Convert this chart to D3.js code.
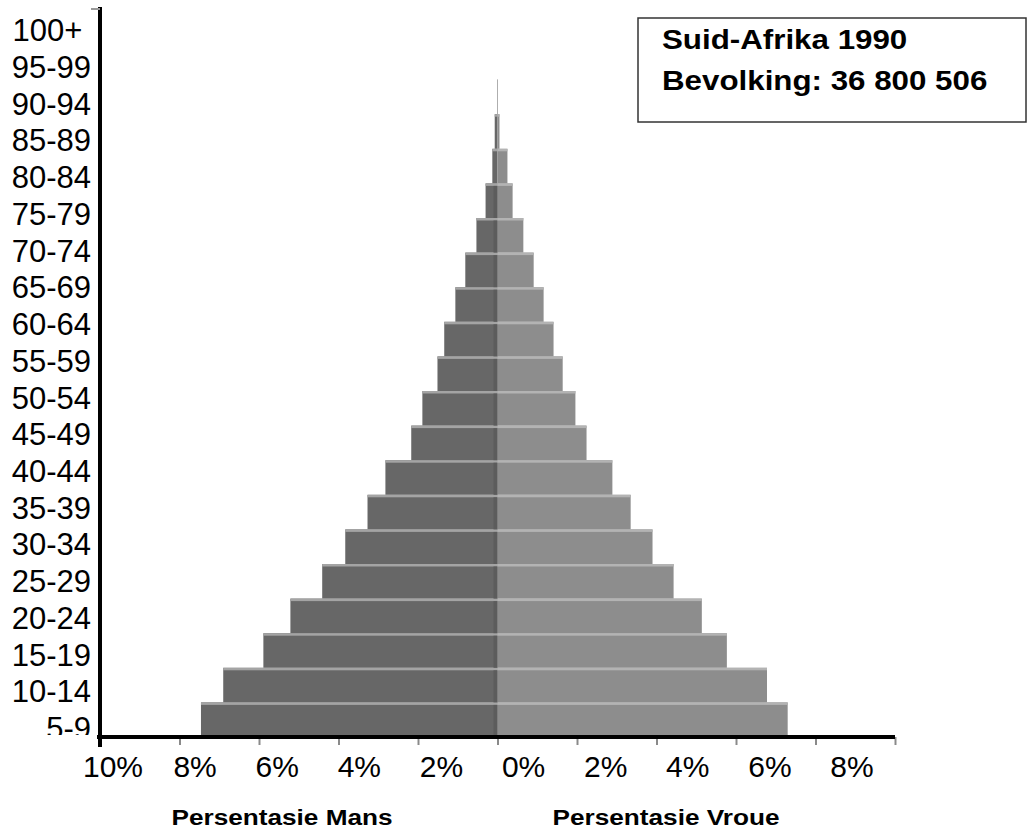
<!DOCTYPE html>
<html>
<head>
<meta charset="utf-8">
<script src="https://cdn.jsdelivr.net/npm/d3@7"></script>
<style>
  body { margin: 0; background: #fff; }
  svg { display: block; font-family: "Liberation Sans", Arial, sans-serif; }
</style>
</head>
<body>
<div id="chart"></div>
<script>
// Age groups, bottom to top
const ageGroups = ["5-9", "10-14", "15-19", "20-24", "25-29", "30-34", "35-39", "40-44", "45-49", "50-54",
  "55-59", "60-64", "65-69", "70-74", "75-79", "80-84", "85-89", "90-94", "95-99", "100+"];
// Percentage of population per group
const malePct = [7.46, 6.9, 5.89, 5.21, 4.41, 3.83, 3.27, 2.82, 2.17, 1.89,
  1.51, 1.34, 1.06, 0.81, 0.53, 0.3, 0.13, 0.07, 0.01, 0];
const femalePct = [7.3, 6.78, 5.77, 5.14, 4.43, 3.9, 3.35, 2.89, 2.24, 1.96,
  1.64, 1.41, 1.16, 0.91, 0.65, 0.38, 0.25, 0.05, 0.01, 0];
// Axis ticks
const tickValues = [-10, -8, -6, -4, -2, 0, 2, 4, 6, 8, 10];
const labelValues = [-10, -8, -6, -4, -2, 0, 2, 4, 6, 8];
const titleLines = ["Suid-Afrika 1990", "Bevolking: 36 800 506"];
const axisTitles = ["Persentasie Mans", "Persentasie Vroue"];

let w = 1028, h = 835;
let svg = d3.select("#chart").append("svg").attr("width", w).attr("height", h);

// Scales
let x = d3.scaleLinear().domain([-10, 10]).range([100, 895]);
let y = d3.scaleBand().domain(ageGroups).range([737, 45]);
// Labels in the original sit slightly off the marks
let yLab = d3.scalePoint().domain(ageGroups).range([728, 30]);
let xLab = d3.scaleLinear().domain([-10, 8]).range([113, 852]);

// Bars
let rows = ageGroups.map((a, i) => ({ age: a, m: malePct[i], f: femalePct[i] }));
let g = svg.append("g");
g.selectAll("rect.male").data(rows).enter().append("rect")
  .attr("class", "male")
  .attr("x", d => x(-d.m)).attr("y", d => y(d.age))
  .attr("width", d => x(0) - x(-d.m)).attr("height", y.bandwidth())
  .attr("fill", "#676767");
g.selectAll("rect.female").data(rows).enter().append("rect")
  .attr("class", "female")
  .attr("x", x(0)).attr("y", d => y(d.age))
  .attr("width", d => x(d.f) - x(0)).attr("height", y.bandwidth())
  .attr("fill", "#8d8d8d");
// Light separators at the top of each bar
g.selectAll("rect.msep").data(rows).enter().append("rect")
  .attr("x", d => x(-d.m)).attr("y", d => y(d.age))
  .attr("width", d => x(0) - x(-d.m)).attr("height", 2.5)
  .attr("fill", "#a4a4a4");
g.selectAll("rect.fsep").data(rows).enter().append("rect")
  .attr("x", x(0)).attr("y", d => y(d.age))
  .attr("width", d => x(d.f) - x(0)).attr("height", 2.5)
  .attr("fill", "#b3b3b3");
// Darker strip along the centre on the male side
g.selectAll("rect.mid").data(rows.filter(d => d.m > 0.2)).enter().append("rect")
  .attr("x", x(0) - 4).attr("y", d => y(d.age) + 2.5)
  .attr("width", 4).attr("height", y.bandwidth() - 2.5)
  .attr("fill", "#5c5c5c");

// X axis ticks
let xAxis = d3.axisBottom(x).tickValues(tickValues).tickSize(8).tickFormat("");
let xg = svg.append("g").attr("transform", "translate(0,737)").call(xAxis);
xg.select(".domain").remove();
xg.selectAll(".tick line").attr("stroke", "#8a8a8a").attr("stroke-width", 2);
svg.append("line").attr("x1", 97).attr("x2", x(10)).attr("y1", 737).attr("y2", 737)
  .attr("stroke", "#000").attr("stroke-width", 4);

// X tick labels
svg.selectAll("text.xlab").data(labelValues).enter().append("text")
  .attr("x", d => xLab(d)).attr("y", 777)
  .attr("text-anchor", "middle").attr("font-size", 30).attr("fill", "#000")
  .text(d => Math.abs(d) + "%");

// Y axis line
svg.append("line").attr("x1", 100).attr("x2", 100).attr("y1", 7).attr("y2", 747)
  .attr("stroke", "#000").attr("stroke-width", 4);
svg.append("line").attr("x1", 91).attr("x2", 100).attr("y1", 9).attr("y2", 9)
  .attr("stroke", "#999").attr("stroke-width", 2);

// Y labels, clipped at the x axis
svg.append("clipPath").attr("id", "yclip").append("rect")
  .attr("x", 0).attr("y", 0).attr("width", 98).attr("height", 735);
svg.append("g").attr("clip-path", "url(#yclip)")
  .selectAll("text").data(ageGroups).enter().append("text")
  .attr("x", 91).attr("y", d => yLab(d)).attr("dy", "0.36em")
  .attr("text-anchor", "end").attr("font-size", 31).attr("fill", "#000")
  .text(d => d == "100+" ? d + "\u00a0" : d);

// Bold text in the original is a little stretched sideways
let sxAxis = 1.19, sxTitle = 1.16;

// Axis titles
svg.selectAll("text.atitle").data(axisTitles).enter().append("text")
  .attr("transform", "scale(" + sxAxis + ",1)")
  .attr("x", (d, i) => (i == 0 ? 282 : 666) / sxAxis).attr("y", 825)
  .attr("text-anchor", "middle").attr("font-size", 22).attr("font-weight", "bold")
  .text(d => d);

// Title box
svg.append("rect").attr("x", 638).attr("y", 18).attr("width", 388).attr("height", 104)
  .attr("fill", "#fff").attr("stroke", "#333").attr("stroke-width", 1.5);
svg.selectAll("text.title").data(titleLines).enter().append("text")
  .attr("transform", "scale(" + sxTitle + ",1)")
  .attr("x", 662 / sxTitle).attr("y", (d, i) => 49 + i * 41)
  .attr("font-size", 27).attr("font-weight", "bold")
  .text(d => d);
</script>
</body>
</html>
